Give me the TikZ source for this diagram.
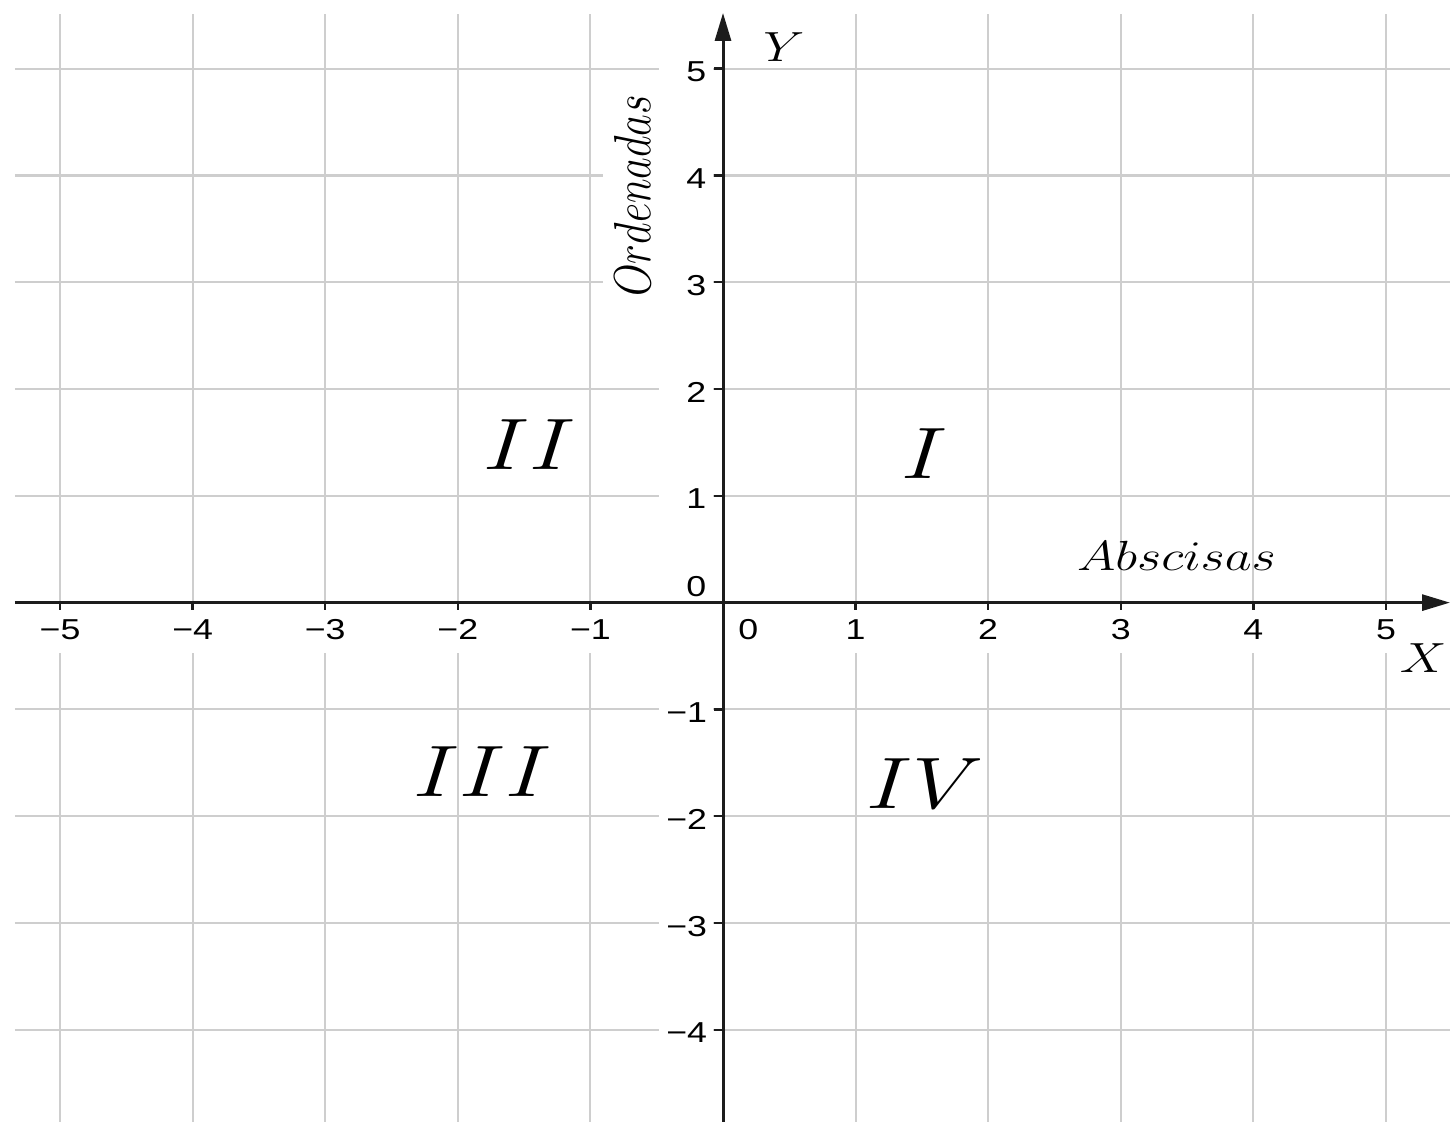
\documentclass[tikz,border=0pt]{standalone}
\usepackage{fontspec}
\newfontfamily\tickfont{Liberation Sans}
\usetikzlibrary{arrows.meta}
\definecolor{gridgray}{RGB}{206,206,206}
\definecolor{axisblack}{RGB}{28,28,28}

\begin{document}
\begin{tikzpicture}[x=1.326cm, y=1.068cm,
  every node/.style={xscale=1.24, inner sep=0pt},
  gridline/.style={gridgray, line width=0.6pt},
  axisline/.style={axisblack, line width=0.85pt, -{Triangle[length=2.8mm,width=1.6mm]}},
  tickmark/.style={axisblack, line width=0.7pt},
  xtick/.style={fill=white, font=\tickfont\fontsize{8.2}{9}\selectfont,
    minimum height=0.47cm, inner xsep=0.6mm},
  ytick/.style={fill=white, font=\tickfont\fontsize{8.2}{9}\selectfont, anchor=east,
    text width=0.322cm, align=right, inner xsep=0.056cm, minimum height=0.3cm},
  quadlab/.style={font=\fontsize{22}{26}\selectfont},
  axislab/.style={font=\fontsize{11.5}{13}\selectfont}]
  \useasboundingbox (-5.453,-4.862) rectangle (5.483,5.643);
  % grid
  \foreach \x in {-5,...,-1,1,2,...,5}
    \draw[gridline] (\x,-4.862) -- (\x,5.512);
  \foreach \y in {-4,...,-1,1,2,...,5}
    \draw[gridline] (-5.34,\y) -- (5.483,\y);
  % tick labels
  \foreach \x in {1,...,5}
    {
      \node[xtick] (xneg\x) at (-\x,-0.255) {−\x};
      \node[xtick] (xpos\x) at (\x,-0.255) {\x};
    }
  \node[xtick] (xzero) at (0.19,-0.255) {0};
  \foreach \y in {1,...,5}
    \node[ytick] (ypos\y) at (-0.068,\y-0.03) {\y};
  \foreach \y in {1,...,4}
    \node[ytick] (yneg\y) at (-0.068,-\y-0.03) {−\y};
  \node[ytick] (yzero) at (-0.068,0.147) {0};
  \node[axislab, rotate=90, fill=white, inner xsep=0.17cm, inner ysep=0.09cm]
    (ordenadas) at (-0.685,3.81) {$Ordenadas$};
  % ticks
  \foreach \x in {-5,...,-1,1,2,...,5}
    \draw[tickmark] (\x,0) -- (\x,-0.065);
  \foreach \y in {-4,...,-1,1,2,...,5}
    \draw[tickmark] (0,\y) -- (-0.068,\y);
  % axes
  \coordinate (xbeg) at (-5.34,0);
  \coordinate (xend) at (5.483,0);
  \coordinate (ybeg) at (0,-4.862);
  \coordinate (yend) at (0,5.522);
  \draw[axisline] (xbeg) -- (xend);
  \draw[axisline] (ybeg) -- (yend);
  \node[axislab] (ylab) at (0.46,5.20) {$Y$};
  \node[axislab] (xlab) at (5.28,-0.52) {$X$};
  \node[axislab] (abscisas) at (3.42,0.437) {$Abscisas$};
  % quadrants
  \node[quadlab] (qI) at (1.523,1.392) {$I$};
  \node[quadlab] (qII) at (-1.455,1.477) {$II$};
  \node[quadlab] (qIII) at (-1.81,-1.585) {$III$};
  \node[quadlab] (qIV) at (1.526,-1.693) {$IV$};
\end{tikzpicture}
\end{document}
